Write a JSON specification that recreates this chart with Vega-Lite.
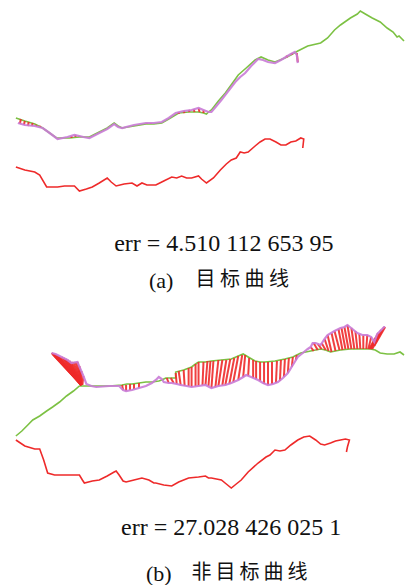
{
"$schema":"https://vega.github.io/schema/vega-lite/v6.json",
"width":408,"height":585,"autosize":{"type":"fit","contains":"padding"},"padding":0,
"background":"white",
"config":{"view":{"stroke":null}},
"datasets":{
"curves":[
{"c":"ag","x":16,"y":118},{"c":"ag","x":25,"y":121},{"c":"ag","x":35,"y":124},{"c":"ag","x":43,"y":128},{"c":"ag","x":50,"y":133},{"c":"ag","x":57,"y":138},{"c":"ag","x":70,"y":138},{"c":"ag","x":80,"y":137},{"c":"ag","x":90,"y":137},{"c":"ag","x":100,"y":132},{"c":"ag","x":108,"y":128},{"c":"ag","x":115,"y":123},{"c":"ag","x":119,"y":126},{"c":"ag","x":123,"y":128},{"c":"ag","x":135,"y":126},{"c":"ag","x":147,"y":124},{"c":"ag","x":155,"y":124},{"c":"ag","x":163,"y":123},{"c":"ag","x":170,"y":119},{"c":"ag","x":180,"y":113},{"c":"ag","x":190,"y":112},{"c":"ag","x":200,"y":112},{"c":"ag","x":205,"y":113},{"c":"ag","x":208,"y":114},{"c":"ag","x":210,"y":112},{"c":"ag","x":213,"y":110},{"c":"ag","x":220,"y":101},{"c":"ag","x":227,"y":93},{"c":"ag","x":235,"y":82},{"c":"ag","x":240,"y":75},{"c":"ag","x":248,"y":68},{"c":"ag","x":257,"y":60},{"c":"ag","x":263,"y":57},{"c":"ag","x":270,"y":60},{"c":"ag","x":277,"y":62},{"c":"ag","x":282,"y":60},{"c":"ag","x":287,"y":58},{"c":"ag","x":293,"y":55},{"c":"ag","x":300,"y":51},{"c":"ag","x":310,"y":46},{"c":"ag","x":323,"y":43},{"c":"ag","x":330,"y":38},{"c":"ag","x":337,"y":30},{"c":"ag","x":343,"y":25},{"c":"ag","x":353,"y":18},{"c":"ag","x":360,"y":14},{"c":"ag","x":363,"y":11},{"c":"ag","x":368,"y":14},{"c":"ag","x":375,"y":18},{"c":"ag","x":383,"y":22},{"c":"ag","x":390,"y":28},{"c":"ag","x":396,"y":32},{"c":"ag","x":400,"y":37},{"c":"ag","x":402,"y":36},{"c":"ag","x":407,"y":41},
{"c":"ap","x":18,"y":123},{"c":"ap","x":25,"y":125},{"c":"ap","x":35,"y":126},{"c":"ap","x":43,"y":128},{"c":"ap","x":50,"y":133},{"c":"ap","x":58,"y":139},{"c":"ap","x":68,"y":137},{"c":"ap","x":75,"y":135},{"c":"ap","x":80,"y":136},{"c":"ap","x":84,"y":137},{"c":"ap","x":90,"y":138},{"c":"ap","x":100,"y":133},{"c":"ap","x":108,"y":129},{"c":"ap","x":115,"y":124},{"c":"ap","x":119,"y":127},{"c":"ap","x":123,"y":128},{"c":"ap","x":135,"y":125},{"c":"ap","x":147,"y":123},{"c":"ap","x":155,"y":123},{"c":"ap","x":163,"y":122},{"c":"ap","x":170,"y":118},{"c":"ap","x":177,"y":113},{"c":"ap","x":185,"y":111},{"c":"ap","x":193,"y":110},{"c":"ap","x":200,"y":108},{"c":"ap","x":205,"y":110},{"c":"ap","x":210,"y":112},{"c":"ap","x":213,"y":112},{"c":"ap","x":218,"y":106},{"c":"ap","x":223,"y":100},{"c":"ap","x":230,"y":91},{"c":"ap","x":237,"y":82},{"c":"ap","x":242,"y":77},{"c":"ap","x":247,"y":73},{"c":"ap","x":253,"y":66},{"c":"ap","x":260,"y":59},{"c":"ap","x":265,"y":60},{"c":"ap","x":270,"y":62},{"c":"ap","x":277,"y":63},{"c":"ap","x":283,"y":60},{"c":"ap","x":288,"y":57},{"c":"ap","x":293,"y":54},{"c":"ap","x":297,"y":52},{"c":"ap","x":299,"y":55},{"c":"ap","x":300,"y":63},
{"c":"ar","x":16,"y":167},{"c":"ar","x":25,"y":170},{"c":"ar","x":35,"y":172},{"c":"ar","x":40,"y":175},{"c":"ar","x":47,"y":187},{"c":"ar","x":52,"y":187},{"c":"ar","x":58,"y":187},{"c":"ar","x":65,"y":186},{"c":"ar","x":75,"y":186},{"c":"ar","x":80,"y":191},{"c":"ar","x":87,"y":189},{"c":"ar","x":93,"y":187},{"c":"ar","x":100,"y":183},{"c":"ar","x":108,"y":178},{"c":"ar","x":112,"y":182},{"c":"ar","x":117,"y":186},{"c":"ar","x":125,"y":184},{"c":"ar","x":133,"y":183},{"c":"ar","x":138,"y":186},{"c":"ar","x":143,"y":183},{"c":"ar","x":148,"y":185},{"c":"ar","x":157,"y":185},{"c":"ar","x":165,"y":181},{"c":"ar","x":173,"y":177},{"c":"ar","x":178,"y":178},{"c":"ar","x":183,"y":176},{"c":"ar","x":188,"y":178},{"c":"ar","x":193,"y":178},{"c":"ar","x":200,"y":176},{"c":"ar","x":203,"y":179},{"c":"ar","x":208,"y":183},{"c":"ar","x":215,"y":178},{"c":"ar","x":222,"y":170},{"c":"ar","x":228,"y":164},{"c":"ar","x":233,"y":160},{"c":"ar","x":238,"y":158},{"c":"ar","x":242,"y":152},{"c":"ar","x":246,"y":153},{"c":"ar","x":250,"y":152},{"c":"ar","x":257,"y":146},{"c":"ar","x":262,"y":142},{"c":"ar","x":267,"y":139},{"c":"ar","x":272,"y":139},{"c":"ar","x":278,"y":142},{"c":"ar","x":283,"y":145},{"c":"ar","x":288,"y":145},{"c":"ar","x":293,"y":142},{"c":"ar","x":298,"y":141},{"c":"ar","x":303,"y":138},{"c":"ar","x":306,"y":139},{"c":"ar","x":305,"y":148},
{"c":"bg","x":16,"y":436},{"c":"bg","x":22,"y":431},{"c":"bg","x":28,"y":425},{"c":"bg","x":33,"y":420},{"c":"bg","x":40,"y":416},{"c":"bg","x":47,"y":411},{"c":"bg","x":53,"y":407},{"c":"bg","x":60,"y":402},{"c":"bg","x":67,"y":396},{"c":"bg","x":74,"y":391},{"c":"bg","x":80,"y":386},{"c":"bg","x":87,"y":386},{"c":"bg","x":95,"y":386},{"c":"bg","x":110,"y":386},{"c":"bg","x":123,"y":385},{"c":"bg","x":128,"y":384},{"c":"bg","x":133,"y":384},{"c":"bg","x":140,"y":383},{"c":"bg","x":147,"y":382},{"c":"bg","x":153,"y":382},{"c":"bg","x":160,"y":381},{"c":"bg","x":163,"y":380},{"c":"bg","x":167,"y":378},{"c":"bg","x":172,"y":378},{"c":"bg","x":177,"y":378},{"c":"bg","x":177,"y":372},{"c":"bg","x":185,"y":370},{"c":"bg","x":193,"y":367},{"c":"bg","x":197,"y":364},{"c":"bg","x":200,"y":362},{"c":"bg","x":207,"y":362},{"c":"bg","x":213,"y":361},{"c":"bg","x":223,"y":360},{"c":"bg","x":233,"y":359},{"c":"bg","x":240,"y":356},{"c":"bg","x":245,"y":354},{"c":"bg","x":250,"y":357},{"c":"bg","x":257,"y":361},{"c":"bg","x":262,"y":362},{"c":"bg","x":267,"y":362},{"c":"bg","x":277,"y":361},{"c":"bg","x":287,"y":359},{"c":"bg","x":295,"y":357},{"c":"bg","x":303,"y":353},{"c":"bg","x":313,"y":351},{"c":"bg","x":323,"y":349},{"c":"bg","x":328,"y":350},{"c":"bg","x":333,"y":352},{"c":"bg","x":343,"y":350},{"c":"bg","x":353,"y":349},{"c":"bg","x":363,"y":349},{"c":"bg","x":373,"y":349},{"c":"bg","x":378,"y":350},{"c":"bg","x":383,"y":353},{"c":"bg","x":390,"y":354},{"c":"bg","x":397,"y":354},{"c":"bg","x":403,"y":352},{"c":"bg","x":407,"y":355},
{"c":"bp","x":52,"y":353},{"c":"bp","x":56,"y":354},{"c":"bp","x":62,"y":357},{"c":"bp","x":68,"y":360},{"c":"bp","x":72,"y":363},{"c":"bp","x":78,"y":362},{"c":"bp","x":81,"y":369},{"c":"bp","x":84,"y":376},{"c":"bp","x":87,"y":384},{"c":"bp","x":92,"y":386},{"c":"bp","x":97,"y":387},{"c":"bp","x":110,"y":386},{"c":"bp","x":120,"y":386},{"c":"bp","x":124,"y":390},{"c":"bp","x":127,"y":391},{"c":"bp","x":133,"y":390},{"c":"bp","x":140,"y":388},{"c":"bp","x":147,"y":386},{"c":"bp","x":153,"y":383},{"c":"bp","x":157,"y":380},{"c":"bp","x":160,"y":377},{"c":"bp","x":163,"y":379},{"c":"bp","x":165,"y":382},{"c":"bp","x":170,"y":383},{"c":"bp","x":173,"y":383},{"c":"bp","x":178,"y":384},{"c":"bp","x":182,"y":385},{"c":"bp","x":188,"y":386},{"c":"bp","x":193,"y":387},{"c":"bp","x":200,"y":386},{"c":"bp","x":207,"y":385},{"c":"bp","x":213,"y":388},{"c":"bp","x":220,"y":386},{"c":"bp","x":227,"y":385},{"c":"bp","x":233,"y":383},{"c":"bp","x":240,"y":380},{"c":"bp","x":245,"y":377},{"c":"bp","x":248,"y":375},{"c":"bp","x":253,"y":377},{"c":"bp","x":260,"y":380},{"c":"bp","x":265,"y":383},{"c":"bp","x":270,"y":385},{"c":"bp","x":275,"y":384},{"c":"bp","x":280,"y":382},{"c":"bp","x":285,"y":378},{"c":"bp","x":290,"y":373},{"c":"bp","x":295,"y":365},{"c":"bp","x":300,"y":357},{"c":"bp","x":305,"y":353},{"c":"bp","x":310,"y":349},{"c":"bp","x":313,"y":347},{"c":"bp","x":315,"y":343},{"c":"bp","x":318,"y":343},{"c":"bp","x":323,"y":345},{"c":"bp","x":327,"y":339},{"c":"bp","x":330,"y":335},{"c":"bp","x":337,"y":331},{"c":"bp","x":343,"y":328},{"c":"bp","x":347,"y":327},{"c":"bp","x":350,"y":325},{"c":"bp","x":355,"y":329},{"c":"bp","x":360,"y":333},{"c":"bp","x":365,"y":335},{"c":"bp","x":370,"y":335},{"c":"bp","x":374,"y":337},{"c":"bp","x":377,"y":342},{"c":"bp","x":380,"y":334},{"c":"bp","x":383,"y":331},{"c":"bp","x":387,"y":327},{"c":"bp","x":388,"y":327},
{"c":"br","x":16,"y":440},{"c":"br","x":25,"y":446},{"c":"br","x":35,"y":449},{"c":"br","x":40,"y":449},{"c":"br","x":44,"y":460},{"c":"br","x":48,"y":473},{"c":"br","x":55,"y":475},{"c":"br","x":60,"y":475},{"c":"br","x":70,"y":475},{"c":"br","x":80,"y":475},{"c":"br","x":83,"y":480},{"c":"br","x":85,"y":483},{"c":"br","x":93,"y":481},{"c":"br","x":100,"y":480},{"c":"br","x":108,"y":476},{"c":"br","x":115,"y":472},{"c":"br","x":117,"y":471},{"c":"br","x":120,"y":475},{"c":"br","x":124,"y":481},{"c":"br","x":127,"y":482},{"c":"br","x":135,"y":480},{"c":"br","x":143,"y":478},{"c":"br","x":150,"y":480},{"c":"br","x":155,"y":483},{"c":"br","x":157,"y":483},{"c":"br","x":165,"y":485},{"c":"br","x":173,"y":486},{"c":"br","x":180,"y":482},{"c":"br","x":190,"y":478},{"c":"br","x":200,"y":477},{"c":"br","x":207,"y":476},{"c":"br","x":210,"y":478},{"c":"br","x":213,"y":478},{"c":"br","x":218,"y":479},{"c":"br","x":223,"y":480},{"c":"br","x":228,"y":484},{"c":"br","x":233,"y":488},{"c":"br","x":238,"y":484},{"c":"br","x":243,"y":480},{"c":"br","x":250,"y":472},{"c":"br","x":260,"y":463},{"c":"br","x":268,"y":457},{"c":"br","x":272,"y":455},{"c":"br","x":277,"y":450},{"c":"br","x":282,"y":451},{"c":"br","x":287,"y":450},{"c":"br","x":293,"y":445},{"c":"br","x":300,"y":440},{"c":"br","x":306,"y":437},{"c":"br","x":312,"y":436},{"c":"br","x":318,"y":440},{"c":"br","x":323,"y":444},{"c":"br","x":327,"y":445},{"c":"br","x":333,"y":443},{"c":"br","x":338,"y":441},{"c":"br","x":343,"y":440},{"c":"br","x":348,"y":439},{"c":"br","x":352,"y":440},{"c":"br","x":350,"y":447},{"c":"br","x":349,"y":452}
],
"links":[
{"x":20,"y":124,"x2":21,"y2":119},{"x":24,"y":125,"x2":25,"y2":121},{"x":28,"y":126,"x2":29,"y2":122},{"x":32,"y":126,"x2":33,"y2":123},{"x":36,"y":126,"x2":37,"y2":125},{"x":40,"y":127,"x2":41,"y2":126},{"x":72,"y":136,"x2":72,"y2":138},{"x":76,"y":135,"x2":76,"y2":137},{"x":80,"y":136,"x2":80,"y2":137},{"x":148,"y":123,"x2":148,"y2":124},{"x":152,"y":123,"x2":152,"y2":124},{"x":180,"y":112,"x2":180,"y2":114},{"x":185,"y":111,"x2":186,"y2":113},{"x":190,"y":110,"x2":191,"y2":112},{"x":195,"y":109,"x2":196,"y2":112},{"x":200,"y":108,"x2":201,"y2":112},{"x":205,"y":110,"x2":205,"y2":113},{"x":288,"y":57,"x2":290,"y2":56},{"x":293,"y":54,"x2":295,"y2":54},{"x":300,"y":62,"x2":299,"y2":53},
{"x":52,"y":353,"x2":82,"y2":385},{"x":53,"y":354,"x2":82,"y2":385},{"x":54,"y":354,"x2":82,"y2":385},{"x":55,"y":355,"x2":82,"y2":385},{"x":56,"y":355,"x2":82,"y2":385},{"x":57,"y":356,"x2":82,"y2":385},{"x":58,"y":356,"x2":82,"y2":385},{"x":59,"y":357,"x2":82,"y2":385},{"x":60,"y":357,"x2":82,"y2":385},{"x":62,"y":357,"x2":82,"y2":385},{"x":64,"y":358,"x2":82,"y2":385},{"x":66,"y":359,"x2":82,"y2":385},{"x":68,"y":360,"x2":82,"y2":385},{"x":70,"y":361,"x2":82,"y2":385},{"x":72,"y":362,"x2":82,"y2":385},{"x":74,"y":362,"x2":82,"y2":385},{"x":76,"y":362,"x2":82,"y2":385},{"x":78,"y":362,"x2":82,"y2":385},{"x":80,"y":366,"x2":82,"y2":385},{"x":82,"y":371,"x2":82,"y2":385},{"x":84,"y":376,"x2":83,"y2":385},
{"x":124,"y":390,"x2":123,"y2":385},{"x":127,"y":391,"x2":127,"y2":385},{"x":131,"y":390,"x2":131,"y2":384},{"x":135,"y":389,"x2":135,"y2":384},{"x":140,"y":388,"x2":140,"y2":383},
{"x":170,"y":383,"x2":168,"y2":378},{"x":175,"y":383,"x2":172,"y2":378},{"x":178,"y":384,"x2":177,"y2":373},{"x":182,"y":385,"x2":180,"y2":371},{"x":186,"y":386,"x2":185,"y2":370},{"x":190,"y":386,"x2":190,"y2":368},{"x":193,"y":387,"x2":193,"y2":367},{"x":197,"y":386,"x2":197,"y2":364},{"x":200,"y":386,"x2":200,"y2":362},{"x":204,"y":385,"x2":205,"y2":362},{"x":207,"y":385,"x2":209,"y2":361},{"x":210,"y":386,"x2":212,"y2":361},{"x":213,"y":388,"x2":215,"y2":361},{"x":217,"y":387,"x2":220,"y2":360},{"x":220,"y":386,"x2":224,"y2":360},{"x":224,"y":385,"x2":228,"y2":360},{"x":227,"y":385,"x2":232,"y2":359},{"x":231,"y":384,"x2":236,"y2":358},{"x":235,"y":382,"x2":240,"y2":356},{"x":240,"y":380,"x2":244,"y2":355},{"x":245,"y":377,"x2":247,"y2":355},{"x":250,"y":376,"x2":251,"y2":358},{"x":255,"y":378,"x2":255,"y2":360},{"x":258,"y":379,"x2":258,"y2":361},{"x":262,"y":381,"x2":262,"y2":362},{"x":266,"y":384,"x2":266,"y2":362},{"x":270,"y":385,"x2":270,"y2":362},{"x":274,"y":384,"x2":274,"y2":362},{"x":278,"y":383,"x2":279,"y2":361},{"x":282,"y":381,"x2":283,"y2":360},{"x":286,"y":377,"x2":287,"y2":359},{"x":290,"y":373,"x2":291,"y2":358},{"x":294,"y":367,"x2":295,"y2":357},{"x":298,"y":360,"x2":299,"y2":355},
{"x":313,"y":347,"x2":316,"y2":351},{"x":316,"y":343,"x2":320,"y2":350},{"x":320,"y":344,"x2":324,"y2":349},{"x":324,"y":343,"x2":328,"y2":350},{"x":327,"y":339,"x2":331,"y2":351},{"x":330,"y":335,"x2":334,"y2":352},{"x":334,"y":333,"x2":338,"y2":351},{"x":337,"y":331,"x2":342,"y2":350},{"x":341,"y":329,"x2":345,"y2":350},{"x":344,"y":328,"x2":348,"y2":349},{"x":347,"y":327,"x2":351,"y2":349},{"x":350,"y":325,"x2":354,"y2":349},{"x":354,"y":328,"x2":357,"y2":349},{"x":358,"y":331,"x2":360,"y2":349},{"x":362,"y":334,"x2":363,"y2":349},{"x":366,"y":335,"x2":366,"y2":349},{"x":370,"y":335,"x2":369,"y2":349},{"x":374,"y":337,"x2":371,"y2":349},{"x":378,"y":338,"x2":372,"y2":349},{"x":381,"y":333,"x2":373,"y2":349},{"x":384,"y":330,"x2":374,"y2":349},{"x":387,"y":327,"x2":375,"y2":349},{"x":388,"y":327,"x2":377,"y2":346}
],
"labels":[
{"k":"err","t":"err = 4.510 112 653 95","x":115,"y":251},
{"k":"err","t":"err = 27.028 426 025 1","x":122,"y":535},
{"k":"tag","t":"(a)","x":150,"y":288},
{"k":"tag","t":"(b)","x":147,"y":581},
{"k":"cap","t":"目 标 曲 线","x":197,"y":286},
{"k":"cap","t":"非\u2009目\u2009标\u2009曲\u2009线","x":193,"y":579}
]
},
"encoding":{
"x":{"field":"x","type":"quantitative","scale":{"domain":[0,408],"nice":false,"zero":false},"axis":null},
"y":{"field":"y","type":"quantitative","scale":{"domain":[0,585],"nice":false,"zero":false,"reverse":true},"axis":null}
},
"layer":[
{"data":{"name":"curves"},"transform":[{"filter":"datum.c==='ag'||datum.c==='bg'"}],"mark":{"type":"line","color":"#7cc143","strokeWidth":1.6},"encoding":{"detail":{"field":"c"},"order":{"value":null}}},
{"data":{"name":"links"},"mark":{"type":"rule","color":"#ee2a2a","strokeWidth":2,"opacity":0.9},"encoding":{"x2":{"field":"x2"},"y2":{"field":"y2"}}},
{"data":{"name":"curves"},"transform":[{"filter":"datum.c==='ap'||datum.c==='bp'"}],"mark":{"type":"line","color":"#c97bd6","strokeWidth":2.2,"opacity":0.9},"encoding":{"detail":{"field":"c"},"order":{"value":null}}},
{"data":{"name":"curves"},"transform":[{"filter":"datum.c==='ar'||datum.c==='br'"}],"mark":{"type":"line","color":"#ee2a2a","strokeWidth":1.6},"encoding":{"detail":{"field":"c"},"order":{"value":null}}},
{"data":{"name":"labels"},"transform":[{"filter":"datum.k==='err'"}],"mark":{"type":"text","align":"left","baseline":"alphabetic","font":"Liberation Serif","fontSize":24,"color":"#111111"},"encoding":{"text":{"field":"t"}}},
{"data":{"name":"labels"},"transform":[{"filter":"datum.k==='tag'"}],"mark":{"type":"text","align":"left","baseline":"alphabetic","font":"Liberation Serif","fontSize":22,"color":"#111111"},"encoding":{"text":{"field":"t"}}},
{"data":{"name":"labels"},"transform":[{"filter":"datum.k==='cap'"}],"mark":{"type":"text","align":"left","baseline":"alphabetic","font":"Noto Sans CJK SC","fontSize":20,"color":"#111111"},"encoding":{"text":{"field":"t"}}}
]
}
